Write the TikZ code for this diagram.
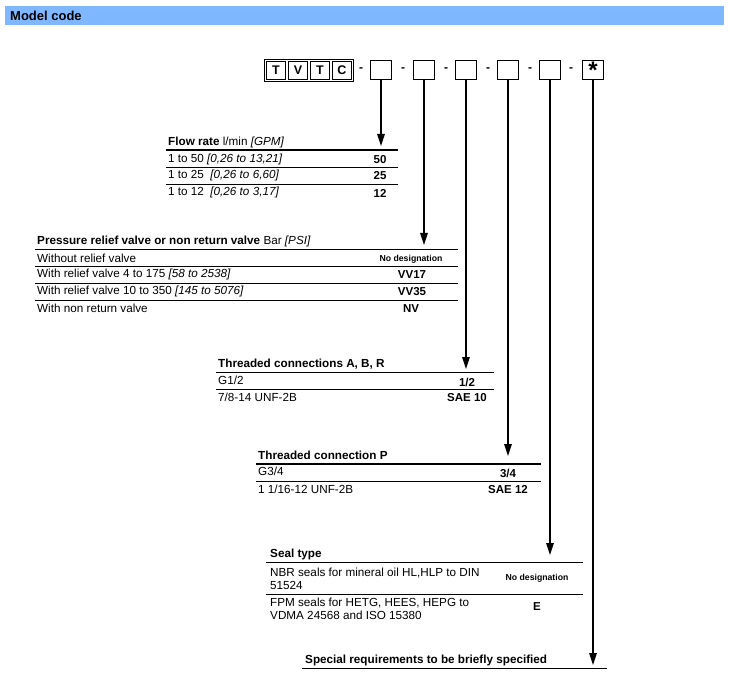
\documentclass[tikz,border=0pt]{standalone}
\usepackage{fontspec}
\setmainfont{Liberation Sans}
\usetikzlibrary{arrows.meta,positioning,fit}
\definecolor{barblue}{HTML}{80B8FF}
\tikzset{x=1pt,y=-1pt,
 codebox/.style={draw,line width=1pt,minimum width=21pt,minimum height=19pt,inner sep=0pt,font=\bfseries\fontsize{12.5}{13}\selectfont},
 letterbox/.style={codebox,minimum width=19.5pt,minimum height=18pt},
 codedash/.style={font=\bfseries\fontsize{12}{13}\selectfont,inner sep=0pt},
 tabtitle/.style={anchor=west,inner sep=0pt,font=\bfseries\fontsize{11.7}{13}\selectfont},
 celltext/.style={anchor=west,inner sep=0pt,font=\fontsize{11.7}{13}\selectfont,align=left},
 cellcode/.style={inner sep=0pt,font=\bfseries\fontsize{11.5}{13}\selectfont},
 cellsmall/.style={inner sep=0pt,font=\bfseries\fontsize{8.7}{10}\selectfont},
 headline/.style={line width=1.6pt},
 rowline/.style={line width=.8pt},
 codearrow/.style={line width=1.3pt,-{Triangle[width=7.5pt,length=12pt]}}}
\begin{document}
\begin{tikzpicture}
\useasboundingbox (0,0) rectangle (730,684);
% title bar
\fill[barblue] (5,6) rectangle (724,25);
\node[tabtitle,font=\bfseries\fontsize{13}{14}\selectfont] (mc) at (10,15.5) {Model code};
% model code boxes
\node[letterbox] (cT1) at (276,70.5) {T};
\node[letterbox,right=1.5pt of cT1] (cV) {V};
\node[letterbox,right=1.5pt of cV] (cT2) {T};
\node[letterbox,right=1.5pt of cT2] (cC) {C};
\node[draw,line width=1pt,inner sep=1.5pt,fit=(cT1)(cC)] (frame) {};
\foreach \n/\xx in {1/381,2/424,3/466,4/508,5/550}{
 \node[codebox] (b\n) at (\xx,70) {};
}
\node[codebox,font=\bfseries\fontsize{24}{24}\selectfont] (b6) at (593,70) {\raisebox{-6pt}{*}};
\foreach \xx in {361,403,446,488,530,571}{
 \node[codedash] at (\xx,70) {-};
}
% flow rate
\node[tabtitle] (t1) at (168,142) {Flow rate \mdseries l/min \itshape[GPM]};
\draw[headline] (166,150) -- (398,150);
\node[celltext] (r11) at (168,159) {1 to 50 \textit{[0,26 to 13,21]}};
\node[cellcode] (c11) at (380,160) {50};
\draw[rowline] (166,167) -- (398,167);
\node[celltext] (r12) at (168,175) {1 to 25 \ \textit{[0,26 to 6,60]}};
\node[cellcode] (c12) at (380,176) {25};
\draw[rowline] (166,184) -- (398,184);
\node[celltext] (r13) at (168,192) {1 to 12 \ \textit{[0,26 to 3,17]}};
\node[cellcode] (c13) at (380,193) {12};
% pressure relief valve
\node[tabtitle] (t2) at (37,241) {Pressure relief valve or non return valve \mdseries Bar \itshape[PSI]};
\draw[headline] (35,249.5) -- (458,249.5);
\node[celltext] (r21) at (37,258) {Without relief valve};
\node[cellsmall] (c21) at (411,259) {No designation};
\draw[rowline] (35,266.5) -- (458,266.5);
\node[celltext] (r22) at (37,274.5) {With relief valve 4 to 175 \textit{[58 to 2538]}};
\node[cellcode] (c22) at (412,275) {VV17};
\draw[rowline] (35,283) -- (458,283);
\node[celltext] (r23) at (37,291.5) {With relief valve 10 to 350 \textit{[145 to 5076]}};
\node[cellcode] (c23) at (412,292) {VV35};
\draw[rowline] (35,300) -- (458,300);
\node[celltext] (r24) at (37,308.5) {With non return valve};
\node[cellcode] (c24) at (411,309) {NV};
% threaded connections A, B, R
\node[tabtitle] (t3) at (218,364) {Threaded connections A, B, R};
\draw[headline] (216,372.5) -- (494,372.5);
\node[celltext] (r31) at (218,380) {G1/2};
\node[cellcode] (c31) at (467,382) {1/2};
\draw[rowline] (216,389.5) -- (494,389.5);
\node[celltext] (r32) at (218,397) {7/8-14 UNF-2B};
\node[cellcode] (c32) at (467,398) {SAE 10};
% threaded connection P
\node[tabtitle] (t4) at (258,455) {Threaded connection P};
\draw[headline] (256,464) -- (541,464);
\node[celltext] (r41) at (258,471.5) {G3/4};
\node[cellcode] (c41) at (508,473) {3/4};
\draw[rowline] (256,481) -- (541,481);
\node[celltext] (r42) at (258,489) {1 1/16-12 UNF-2B};
\node[cellcode] (c42) at (508,490) {SAE 12};
% seal type
\node[tabtitle] (t5) at (270,554) {Seal type};
\draw[headline] (266,562.5) -- (583,562.5);
\node[celltext] (r51) at (270,578.5) {NBR seals for mineral oil HL,HLP to DIN\\51524};
\node[cellsmall] (c51) at (537,578) {No designation};
\draw[rowline] (266,594) -- (583,594);
\node[celltext] (r52) at (270,608.5) {FPM seals for HETG, HEES, HEPG to\\VDMA 24568 and ISO 15380};
\node[cellcode] (c52) at (537,607) {E};
% special requirements
\node[tabtitle] (t6) at (305,660) {Special requirements to be briefly specified};
\draw[headline] (302,668.5) -- (607,668.5);
% arrows
\coordinate (e1) at (381,146);
\coordinate (e2) at (424,245);
\coordinate (e3) at (466,369);
\coordinate (e4) at (508,456);
\coordinate (e5) at (550,555);
\coordinate (e6) at (593,665);
\foreach \n in {1,...,6}{
 \draw[codearrow] (b\n.south) -- (e\n);
}
\end{tikzpicture}
\end{document}
